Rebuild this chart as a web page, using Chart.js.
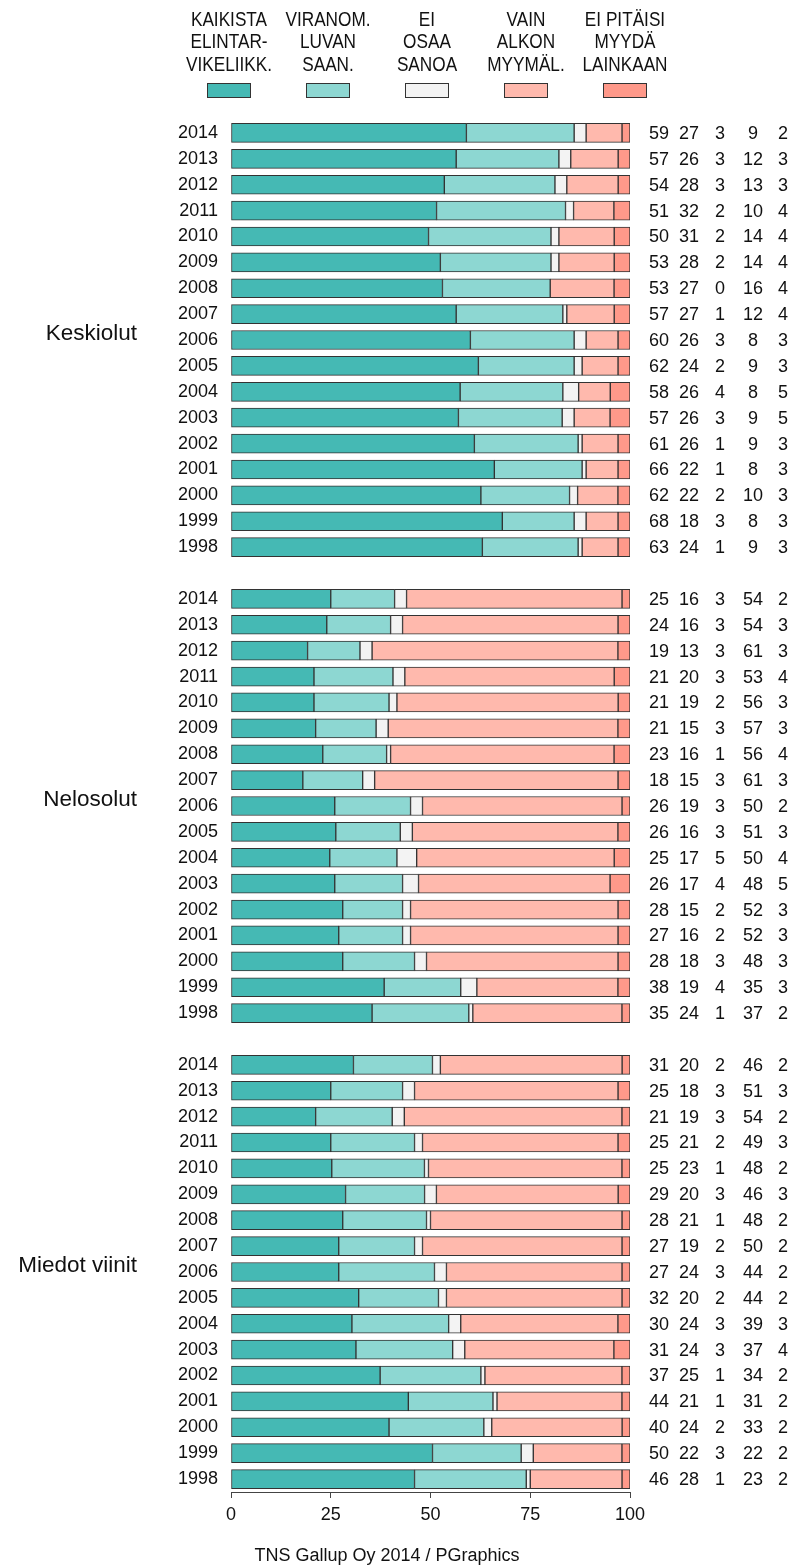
<!DOCTYPE html>
<html>
<head>
<meta charset="utf-8">
<script src="https://cdn.jsdelivr.net/npm/chart.js"></script>
<style>
  body { margin: 0; background: #fff; }
  #wrap { width: 794px; height: 1567px; }
</style>
</head>
<body>
<div id="wrap"><canvas id="barChart" width="794" height="1567"></canvas></div>
<script>
// years, top to bottom
const years = ['2014','2013','2012','2011','2010','2009','2008','2007','2006','2005','2004','2003','2002','2001','2000','1999','1998'];

const groupNames = ['Keskiolut', 'Nelosolut', 'Miedot viinit'];

const seriesNames = [
  ['KAIKISTA', 'ELINTAR-', 'VIKELIIKK.'],
  ['VIRANOM.', 'LUVAN', 'SAAN.'],
  ['EI', 'OSAA', 'SANOA'],
  ['VAIN', 'ALKON', 'MYYMÄL.'],
  ['EI PITÄISI', 'MYYDÄ', 'LAINKAAN']
];
const seriesColors = ['#45b9b4', '#8dd7d2', '#f3f3f3', '#ffb9ad', '#ff998a'];

// rows: kaikista, viranom., ei osaa, vain alkon, ei lainkaan
const keskiolut = [
  [59,27,3,9,2],[57,26,3,12,3],[54,28,3,13,3],[51,32,2,10,4],[50,31,2,14,4],
  [53,28,2,14,4],[53,27,0,16,4],[57,27,1,12,4],[60,26,3,8,3],[62,24,2,9,3],
  [58,26,4,8,5],[57,26,3,9,5],[61,26,1,9,3],[66,22,1,8,3],[62,22,2,10,3],
  [68,18,3,8,3],[63,24,1,9,3]
];
const nelosolut = [
  [25,16,3,54,2],[24,16,3,54,3],[19,13,3,61,3],[21,20,3,53,4],[21,19,2,56,3],
  [21,15,3,57,3],[23,16,1,56,4],[18,15,3,61,3],[26,19,3,50,2],[26,16,3,51,3],
  [25,17,5,50,4],[26,17,4,48,5],[28,15,2,52,3],[27,16,2,52,3],[28,18,3,48,3],
  [38,19,4,35,3],[35,24,1,37,2]
];
const miedotViinit = [
  [31,20,2,46,2],[25,18,3,51,3],[21,19,3,54,2],[25,21,2,49,3],[25,23,1,48,2],
  [29,20,3,46,3],[28,21,1,48,2],[27,19,2,50,2],[27,24,3,44,2],[32,20,2,44,2],
  [30,24,3,39,3],[31,24,3,37,4],[37,25,1,34,2],[44,21,1,31,2],[40,24,2,33,2],
  [50,22,3,22,2],[46,28,1,23,2]
];

const groups = [keskiolut, nelosolut, miedotViinit];
const FONT = "'Liberation Sans', Arial, sans-serif";

// one blank category between groups
let labels = [], rows = [], groupStart = [];
groups.forEach((g, gi) => {
  if (gi > 0) { labels.push(''); rows.push(null); }
  groupStart.push(labels.length);
  g.forEach((r, i) => { labels.push(years[i]); rows.push(r); });
});

// bars are drawn as shares of the row total so every bar ends at 100
let datasets = seriesColors.map((c, si) => ({
  label: seriesNames[si].join(' '),
  backgroundColor: c,
  borderColor: '#333',
  borderWidth: 1,
  borderSkipped: false,
  barThickness: 19,
  data: rows.map(r => {
    if (!r) return null;
    let sum = r.reduce((a, b) => a + b, 0);
    return r[si] / sum * 100;
  })
}));

const extras = {
  id: 'extras',
  afterDraw(chart) {
    const ctx = chart.ctx;
    const y = chart.scales.y;
    ctx.save();
    ctx.fillStyle = '#111';

    // legend (condensed caps)
    ctx.textAlign = 'center';
    ctx.textBaseline = 'middle';
    ctx.font = '20px ' + FONT;
    seriesNames.forEach((lines, i) => {
      let cx = 229 + i * 99;
      lines.forEach((t, li) => {
        ctx.save();
        ctx.translate(cx, 20 + li * 22.5);
        ctx.scale(0.86, 1);
        ctx.fillStyle = '#111';
        ctx.fillText(t, 0, 0);
        ctx.restore();
      });
      ctx.fillStyle = seriesColors[i];
      ctx.fillRect(cx - 22, 83, 44, 15);
      ctx.strokeStyle = '#333';
      ctx.lineWidth = 1;
      ctx.strokeRect(cx - 21.5, 83.5, 43, 14);
    });

    // group labels
    ctx.fillStyle = '#111';
    ctx.textAlign = 'right';
    ctx.font = '22.5px ' + FONT;
    groupNames.forEach((n, gi) => {
      let mid = (y.getPixelForValue(groupStart[gi]) + y.getPixelForValue(groupStart[gi] + years.length - 1)) / 2;
      ctx.fillText(n, 137, mid - 6);
    });

    // value columns
    ctx.textAlign = 'center';
    ctx.font = '18px ' + FONT;
    const colX = [659, 689, 720, 753, 783];
    rows.forEach((r, idx) => {
      if (!r) return;
      let py = y.getPixelForValue(idx);
      r.forEach((v, k) => ctx.fillText(String(v), colX[k], py + 1));
    });

    // credit
    ctx.fillText('TNS Gallup Oy 2014 / PGraphics', 387, 1556);
    ctx.restore();
  }
};

var ctx = document.getElementById('barChart').getContext('2d');
var chart = new Chart(ctx, {
  type: 'bar',
  data: { labels: labels, datasets: datasets },
  options: {
    indexAxis: 'y',
    responsive: false,
    animation: false,
    layout: { padding: { top: 120, right: 164, left: 0, bottom: 0 } },
    plugins: {
      legend: { display: false },
      tooltip: { enabled: false }
    },
    scales: {
      x: {
        stacked: true,
        min: 0,
        max: 100,
        ticks: { stepSize: 25, color: '#111', font: { family: FONT, size: 18 }, padding: 6 },
        grid: { display: true, drawOnChartArea: false, drawTicks: true, tickLength: 6, color: '#444' },
        border: { display: true, color: '#444' },
        afterFit: s => { s.height = 75; }
      },
      y: {
        stacked: true,
        ticks: { color: '#111', font: { family: FONT, size: 18 }, padding: 5, autoSkip: false },
        grid: { display: false },
        border: { display: false },
        afterFit: s => { s.width = 231; }
      }
    }
  },
  plugins: [extras]
});
</script>
</body>
</html>
